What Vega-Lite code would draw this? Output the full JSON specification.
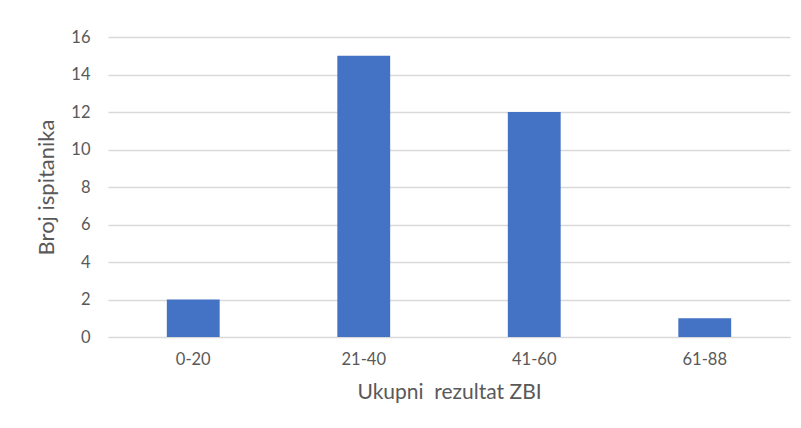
{
  "$schema": "https://vega.github.io/schema/vega-lite/v6.json",
  "width": 682,
  "height": 300,
  "autosize": {"type": "none"},
  "padding": {"left": 108, "top": 37, "right": 11, "bottom": 91},
  "background": "white",
  "data": {"values": [
    {"grupa": "0-20", "broj": 2},
    {"grupa": "21-40", "broj": 15},
    {"grupa": "41-60", "broj": 12},
    {"grupa": "61-88", "broj": 1}
  ]},
  "mark": {"type": "bar", "color": "#4472C4"},
  "encoding": {
    "x": {
      "field": "grupa", "type": "nominal", "sort": null,
      "scale": {"paddingInner": 0.69, "paddingOuter": 0.345},
      "axis": {"title": "Ukupni\u00a0 rezultat ZBI", "labelAngle": 0, "ticks": false, "domain": true, "domainColor": "#d9d9d9", "labelPadding": 14, "titlePadding": 14, "titleFontSize": 21}
    },
    "y": {
      "field": "broj", "type": "quantitative",
      "scale": {"domain": [0, 16]},
      "axis": {"title": "Broj ispitanika", "values": [0,2,4,6,8,10,12,14,16], "ticks": false, "domain": false, "labelPadding": 18, "titlePadding": 12, "titleFontSize": 22}
    }
  },
  "config": {
    "view": {"stroke": null},
    "font": "Lato",
    "axis": {
      "labelFont": "Lato", "titleFont": "Lato",
      "labelFontSize": 16.5, "titleFontWeight": "normal",
      "labelColor": "#595959", "titleColor": "#595959",
      "gridColor": "#d9d9d9", "gridWidth": 1.5
    },
    "axisX": {"grid": false}
  }
}
